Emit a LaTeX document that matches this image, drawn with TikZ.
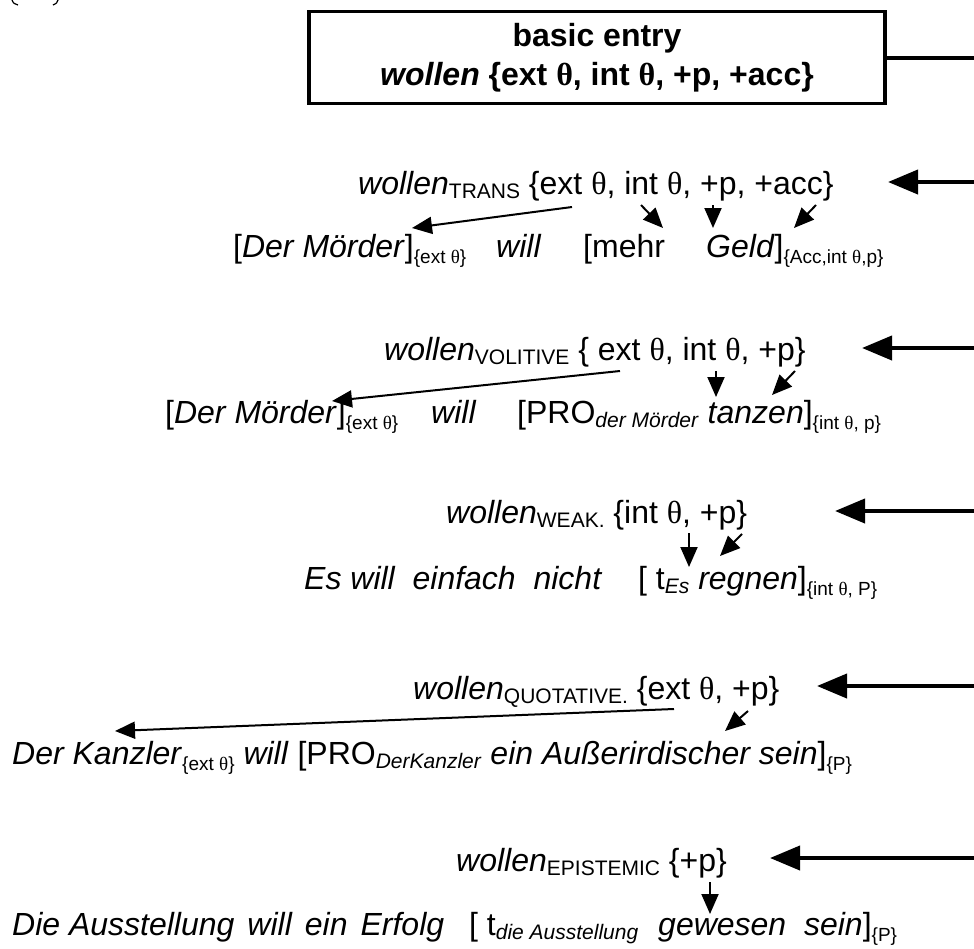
\documentclass[tikz,border=0pt]{standalone}
\usepackage{fontspec}
\setmainfont{Liberation Sans}
\newfontfamily\thfont{Liberation Serif}
\usetikzlibrary{arrows.meta}
\newcommand\thx{{\thfont θ}}
\newcommand\sbx[1]{\raisebox{-0.15em}{\fontsize{21}{21}\selectfont #1}}
\newcommand\tsb[1]{\raisebox{-0.2em}{\fontsize{19}{19}\selectfont #1}}
\tikzset{
  txt/.style={inner sep=0pt, anchor=base west, font=\fontsize{32}{38}\selectfont},
  bigarrow/.style={line width=4pt, -{Triangle[length=30pt,width=24pt]}},
  smallarrow/.style={line width=2pt, -{Triangle[length=20pt,width=17pt]}},
  entrybox/.style={draw, line width=3.5pt, minimum width=576pt, minimum height=92pt, align=center, font=\bfseries\fontsize{32}{39}\selectfont}
}
\begin{document}
\begin{tikzpicture}[x=1pt,y=-1pt]
\useasboundingbox (0,0) rectangle (974,948);
% cropped parentheses at top left
\draw[line width=1.2pt] (12,0) .. controls (13,3) .. (18,5);
\draw[line width=1.2pt] (58,0) .. controls (57,3) .. (53,5);
% basic entry
\node[entrybox] (box) at (597,57.5) {basic entry\\\textit{wollen} \{ext \thx, int \thx, +p, +acc\}};
\coordinate (boxend) at (974,57.5);
\draw[line width=4pt] (box.east) -- (boxend);
% Row 1
\node[txt] (t1) at (358,194) {\textit{wollen}\sbx{TRANS} \{ext \thx, int \thx, +p, +acc\}};
\coordinate (r1) at (974,182);
\coordinate (h1) at (888,182);
\draw[bigarrow] (r1) -- (h1);
\node[txt] (b1a) at (233,257) {[\textit{Der Mörder}]\tsb{\{ext \thx\}}};
\node[txt] (b1b) at (496,257) {\textit{will}};
\node[txt] (b1c) at (583,257) {[mehr};
\node[txt] (b1d) at (706,257) {\textit{Geld}]\tsb{\{Acc,int \thx,p\}}};
\coordinate (a1s) at (572,207); \coordinate (a1e) at (412,228);
\coordinate (a2s) at (641,205); \coordinate (a2e) at (663,228);
\coordinate (a3s) at (713,205); \coordinate (a3e) at (713,228);
\coordinate (a4s) at (816,205); \coordinate (a4e) at (794,228);
\draw[smallarrow] (a1s) -- (a1e);
\draw[smallarrow] (a2s) -- (a2e);
\draw[smallarrow] (a3s) -- (a3e);
\draw[smallarrow] (a4s) -- (a4e);
% Row 2
\node[txt] (t2) at (384,360) {\textit{wollen}\sbx{VOLITIVE} \{ ext \thx, int \thx, +p\}};
\coordinate (r2) at (974,348);
\coordinate (h2) at (862,348);
\draw[bigarrow] (r2) -- (h2);
\node[txt] (b2a) at (165,423) {[\textit{Der Mörder}]\tsb{\{ext \thx\}}};
\node[txt] (b2b) at (431,423) {\textit{will}};
\node[txt] (b2c) at (517,423) {[PRO\sbx{\textit{der Mörder}} \textit{tanzen}]\tsb{\{int \thx, p\}}};
\coordinate (c1s) at (620,371); \coordinate (c1e) at (332,401);
\coordinate (c2s) at (716,371); \coordinate (c2e) at (716,397);
\coordinate (c3s) at (795,371); \coordinate (c3e) at (772,395);
\draw[smallarrow] (c1s) -- (c1e);
\draw[smallarrow] (c2s) -- (c2e);
\draw[smallarrow] (c3s) -- (c3e);
% Row 3
\node[txt] (t3) at (446,523) {\textit{wollen}\sbx{WEAK.} \{int \thx, +p\}};
\coordinate (r3) at (974,511);
\coordinate (h3) at (835,511);
\draw[bigarrow] (r3) -- (h3);
\node[txt] (b3a) at (304,589) {\textit{Es will\ \ einfach\ \ nicht}};
\node[txt] (b3b) at (638,589) {[ t\sbx{\textit{Es}} \textit{regnen}]\tsb{\{int \thx, P\}}};
\coordinate (d1s) at (689,533); \coordinate (d1e) at (689,567);
\coordinate (d2s) at (742,534); \coordinate (d2e) at (720,556);
\draw[smallarrow] (d1s) -- (d1e);
\draw[smallarrow] (d2s) -- (d2e);
% Row 4
\node[txt] (t4) at (413,699) {\textit{wollen}\sbx{QUOTATIVE.} \{ext \thx, +p\}};
\coordinate (r4) at (974,686);
\coordinate (h4) at (817,686);
\draw[bigarrow] (r4) -- (h4);
\node[txt] (b4) at (12,764) {\textit{Der Kanzler}\tsb{\{ext \thx\}} \textit{will} [PRO\sbx{\textit{DerKanzler}} \textit{ein Außerirdischer sein}]\tsb{\{P\}}};
\coordinate (e1s) at (674,709); \coordinate (e1e) at (115,731);
\coordinate (e2s) at (748,711); \coordinate (e2e) at (725,731);
\draw[smallarrow] (e1s) -- (e1e);
\draw[smallarrow] (e2s) -- (e2e);
% Row 5
\node[txt] (t5) at (456,871) {\textit{wollen}\sbx{EPISTEMIC} \{+p\}};
\coordinate (r5) at (974,858);
\coordinate (h5) at (770,858);
\draw[bigarrow] (r5) -- (h5);
\node[txt] (b5a) at (12,935) {\textit{Die Ausstellung\hspace{13pt}will\hspace{13pt}ein\hspace{13pt}Erfolg}};
\node[txt] (b5b) at (469,935) {[ t\sbx{\textit{die Ausstellung}}};
\node[txt] (b5c) at (658,935) {\textit{gewesen\ \ sein}]\tsb{\{P\}}};
\coordinate (f1s) at (710,882); \coordinate (f1e) at (710,914);
\draw[smallarrow] (f1s) -- (f1e);
\end{tikzpicture}
\end{document}
